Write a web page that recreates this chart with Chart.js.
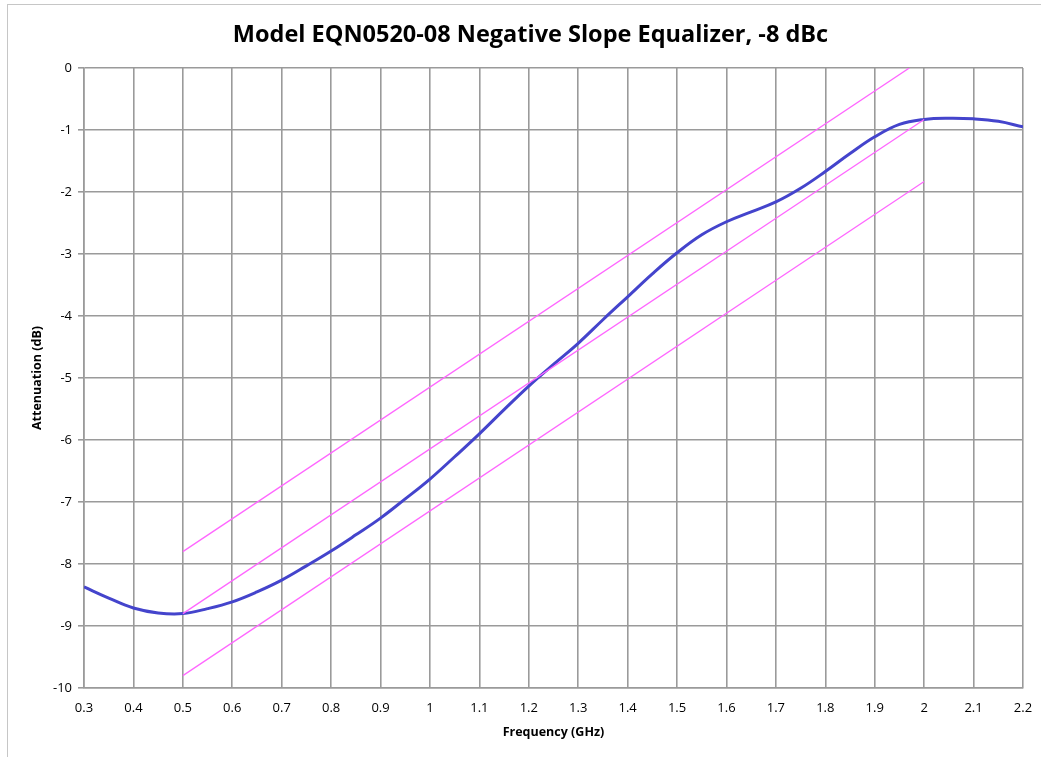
<!DOCTYPE html>
<html>
<head>
<meta charset="utf-8">
<script src="https://cdn.jsdelivr.net/npm/chart.js@4"></script>
<style>
  html, body { margin: 0; padding: 0; background: #fff; }
  #wrap { position: relative; width: 1041px; height: 757px; }
  #frame { position: absolute; left: 7px; top: 4px; width: 1040px; height: 760px;
           border-left: 1.5px solid #c6c6c6; border-top: 1.5px solid #c6c6c6; }
  canvas { position: absolute; left: 0; top: 0; }
</style>
</head>
<body>
<div id="wrap">
  <div id="frame"></div>
  <canvas id="c" width="1041" height="757"></canvas>
</div>
<script>
// ---- data ----
const freqGHz = [0.30,0.35,0.40,0.45,0.50,0.55,0.60,0.65,0.70,0.75,0.80,0.85,0.90,0.95,1.00,1.05,1.10,1.15,1.20,1.25,1.30,1.35,1.40,1.45,1.50,1.55,1.60,1.65,1.70,1.75,1.80,1.85,1.90,1.95,2.00,2.05,2.10,2.15,2.20];
const attenuationDb = [-8.37,-8.55,-8.71,-8.79,-8.80,-8.72,-8.61,-8.45,-8.26,-8.03,-7.79,-7.53,-7.26,-6.95,-6.63,-6.27,-5.90,-5.51,-5.13,-4.78,-4.44,-4.06,-3.69,-3.32,-2.98,-2.69,-2.48,-2.32,-2.16,-1.94,-1.67,-1.38,-1.11,-0.91,-0.83,-0.81,-0.82,-0.86,-0.95];

const upperLimitX = [0.5, 1.97];
const upperLimitY = [-7.8, 0];
const nominalX = [0.5, 2.0];
const nominalY = [-8.8, -0.83];
const lowerLimitX = [0.5, 2.0];
const lowerLimitY = [-9.8, -1.83];

const xTicks = [0.3,0.4,0.5,0.6,0.7,0.8,0.9,1.0,1.1,1.2,1.3,1.4,1.5,1.6,1.7,1.8,1.9,2.0,2.1,2.2];
const yTicks = [-10,-9,-8,-7,-6,-5,-4,-3,-2,-1,0];

const titleText = 'Model EQN0520-08 Negative Slope Equalizer, -8 dBc';
const xTitle = 'Frequency (GHz)';
const yTitle = 'Attenuation (dB)';

const pts = (xs, ys) => xs.map((x, i) => ({x: x, y: ys[i]}));
const gridColor = '#9a9a9a';
const fam = "'Open Sans', 'Liberation Sans', sans-serif";

// Title drawn as canvas text, centred where the reference places it
const titlePlugin = {
  id: 'pageTitle',
  afterDraw(chart) {
    const ctx = chart.ctx;
    ctx.save();
    ctx.font = "bold 23.5px " + fam;
    ctx.fillStyle = '#000';
    ctx.textAlign = 'center';
    ctx.textBaseline = 'middle';
    ctx.fillText(titleText, 530.5, 35);
    ctx.restore();
  }
};

new Chart(document.getElementById('c'), {
  type: 'scatter',
  data: {
    datasets: [
      { data: pts(upperLimitX, upperLimitY), showLine: true, borderColor: '#ff66ff', borderWidth: 1.3, pointRadius: 0, tension: 0 },
      { data: pts(nominalX, nominalY), showLine: true, borderColor: '#ff66ff', borderWidth: 1.3, pointRadius: 0, tension: 0 },
      { data: pts(lowerLimitX, lowerLimitY), showLine: true, borderColor: '#ff66ff', borderWidth: 1.3, pointRadius: 0, tension: 0 },
      { data: pts(freqGHz, attenuationDb), showLine: true, borderColor: '#4444cc', borderWidth: 3, pointRadius: 0, tension: 0.4 }
    ]
  },
  plugins: [titlePlugin],
  options: {
    responsive: false,
    animation: false,
    devicePixelRatio: 1,
    layout: { padding: { left: 0, right: 18, top: 68, bottom: 0 } },
    plugins: {
      legend: { display: false },
      tooltip: { enabled: false },
      title: { display: false }
    },
    scales: {
      x: {
        type: 'linear', min: 0.3, max: 2.2,
        afterBuildTicks: s => { s.ticks = xTicks.map(v => ({value: v})); },
        afterFit: s => { s.height = 69; s.paddingLeft = 0; s.paddingRight = 0; },
        grid: { color: gridColor, lineWidth: 1.6, drawTicks: false },
        border: { color: gridColor, width: 1.6 },
        ticks: { color: '#000', padding: 12, maxRotation: 0, autoSkip: false,
                 font: { family: fam, size: 13 },
                 callback: v => String(Number(v.toFixed(1))) },
        title: { display: true, text: xTitle, color: '#000',
                 font: { family: fam, size: 12.5, weight: 'bold', lineHeight: 1.2 },
                 padding: { top: 0, bottom: 17 } }
      },
      y: {
        type: 'linear', min: -10, max: 0,
        afterBuildTicks: s => { s.ticks = yTicks.map(v => ({value: v})); },
        afterFit: s => { s.width = 84; s.paddingTop = 0; s.paddingBottom = 0; },
        grid: { color: gridColor, lineWidth: 1.6, drawTicks: true, tickLength: 6 },
        border: { color: gridColor, width: 1.6 },
        ticks: { color: '#000', padding: 6, autoSkip: false,
                 font: { family: fam, size: 13 },
                 callback: v => String(v) },
        title: { display: true, text: yTitle, color: '#000',
                 font: { family: fam, size: 12.5, weight: 'bold', lineHeight: 1.2 },
                 padding: { top: 30, bottom: 0 } }
      }
    }
  }
});
</script>
</body>
</html>
